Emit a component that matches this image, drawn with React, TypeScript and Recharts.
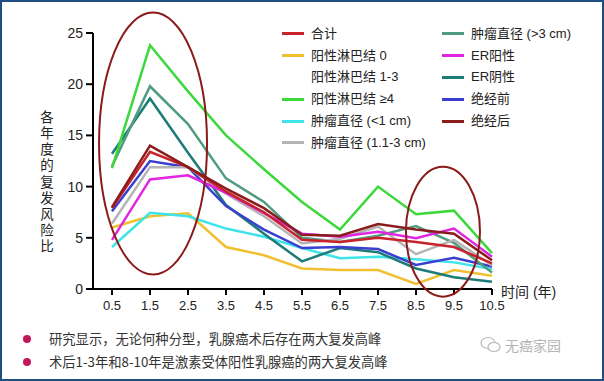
import { LineChart, Line, XAxis, YAxis, ReferenceDot, Legend } from "recharts";

const years = [0.5, 1.5, 2.5, 3.5, 4.5, 5.5, 6.5, 7.5, 8.5, 9.5, 10.5];
const yTicks = [0, 5, 10, 15, 20, 25];

const total = [7.9, 13.4, 11.9, 9.5, 7.5, 4.8, 4.6, 5.0, 4.6, 4.1, 2.5];
const node0 = [6.0, 7.1, 7.4, 4.1, 3.3, 2.0, 1.85, 1.85, 0.5, 1.85, 1.3];
const node4 = [11.8, 23.8, 19.3, 15.0, 11.7, 8.5, 5.8, 10.0, 7.3, 7.65, 3.5];
const sizeLt1 = [4.1, 7.45, 7.1, 5.9, 5.1, 4.0, 3.0, 3.15, 2.9, 2.6, 1.95];
const size1to3 = [6.4, 11.9, 11.9, 9.3, 7.1, 4.45, 4.9, 6.1, 3.4, 4.8, 2.3];
const sizeGt3 = [12.0, 19.8, 16.1, 10.8, 8.5, 5.0, 4.6, 5.2, 6.15, 4.5, 1.6];
const erPos = [4.8, 10.7, 11.1, 9.4, 7.4, 5.4, 5.1, 5.6, 4.95, 5.9, 3.15];
const erNeg = [13.2, 18.6, 13.3, 8.2, 5.4, 2.7, 4.0, 3.6, 2.0, 1.15, 0.7];
const preMeno = [7.6, 12.5, 11.9, 8.1, 5.8, 4.0, 4.1, 3.9, 2.35, 3.05, 2.2];
const postMeno = [8.0, 14.0, 11.9, 9.8, 7.9, 5.3, 5.2, 6.35, 5.8, 5.4, 2.8];

// legend order is column by column; node1to3 has no line in the source
const series = [
  { key: "total", name: "合计", color: "#c8222c", values: total },
  { key: "node0", name: "阳性淋巴结 0", color: "#f0c030", values: node0 },
  { key: "node1to3", name: "阳性淋巴结 1-3", color: "transparent", values: null },
  { key: "node4", name: "阳性淋巴结 ≥4", color: "#3cd83c", values: node4 },
  { key: "sizeLt1", name: "肿瘤直径 (<1 cm)", color: "#3fe3ea", values: sizeLt1 },
  { key: "size1to3", name: "肿瘤直径 (1.1-3 cm)", color: "#b4b4b4", values: size1to3 },
  { key: "sizeGt3", name: "肿瘤直径 (>3 cm)", color: "#4f9c80", values: sizeGt3 },
  { key: "erPos", name: "ER阳性", color: "#e026e0", values: erPos },
  { key: "erNeg", name: "ER阴性", color: "#1d7b78", values: erNeg },
  { key: "preMeno", name: "绝经前", color: "#3a3fd0", values: preMeno },
  { key: "postMeno", name: "绝经后", color: "#8a1c1c", values: postMeno },
];

// draw order: back to front
const drawOrder = ["node0", "sizeLt1", "erNeg", "preMeno", "sizeGt3", "size1to3", "erPos", "total", "postMeno", "node4"];

const data = years.map((x, i) => {
  const row: Record<string, number> = { x };
  series.forEach((s) => {
    if (s.values) row[s.key] = s.values[i];
  });
  return row;
});

const font = "'Liberation Sans', 'Noto Sans CJK SC', sans-serif";
const cjk = "'Noto Sans CJK SC', sans-serif";

function LegendBox() {
  const col1 = series.slice(0, 6);
  const col2 = series.slice(6);
  const renderCol = (items: typeof series, left: number, top: number, gap: number) => (
    <div style={{ position: "absolute", left, top }}>
      {items.map((s) => (
        <div key={s.key} style={{ display: "flex", alignItems: "center", height: gap }}>
          <div style={{ width: 22, height: 3, background: s.color, marginRight: 7 }} />
          <span style={{ fontSize: 13, lineHeight: "16px", color: "#222", fontFamily: font, whiteSpace: "nowrap" }}>
            {s.name}
          </span>
        </div>
      ))}
    </div>
  );
  return (
    <div style={{ position: "relative", width: 604, height: 0 }}>
      {renderCol(col1, 282, -14, 21.8)}
      {renderCol(col2, 442, -14, 21.8)}
    </div>
  );
}

const ellipse = (rx: number, ry: number) => (props: any) => (
  <ellipse cx={props.cx} cy={props.cy} rx={rx} ry={ry} fill="none" stroke="#8b1a1a" strokeWidth={2} />
);

export default function App() {
  return (
    <div
      style={{
        position: "absolute",
        left: 0,
        top: 0,
        width: 600,
        height: 377,
        border: "2px solid #1f4e84",
        background: "#fff",
        fontFamily: font,
        overflow: "hidden",
      }}
    >
      <div style={{ position: "absolute", left: -2, top: -2 }}>
        <LineChart width={604} height={320} data={data} margin={{ top: 33, right: 112, bottom: 1, left: 33 }}>
          <XAxis
            dataKey="x"
            type="number"
            domain={[0, 10.5]}
            ticks={years}
            tickFormatter={(v) => String(v)}
            stroke="#000"
            strokeWidth={2}
            tickSize={6}
            tickMargin={6}
            height={30}
            tick={{ fontSize: 13, fill: "#222", fontFamily: font }}
          />
          <YAxis
            type="number"
            domain={[0, 25]}
            ticks={yTicks}
            stroke="#000"
            strokeWidth={2}
            tickSize={7}
            tickMargin={3}
            width={60}
            tick={{ fontSize: 14, fill: "#222", fontFamily: font }}
          />
          {drawOrder.map((k) => {
            const s = series.find((d) => d.key === k)!;
            return (
              <Line
                key={k}
                type="linear"
                dataKey={k}
                name={s.name}
                stroke={s.color}
                strokeWidth={2.5}
                dot={false}
                isAnimationActive={false}
              />
            );
          })}
          <ReferenceDot x={1.58} y={14.2} r={1} ifOverflow="visible" shape={ellipse(54, 131)} />
          <ReferenceDot x={9.21} y={5.6} r={1} ifOverflow="visible" shape={ellipse(37, 65)} />
          <Legend
            content={() => <LegendBox />}
            wrapperStyle={{ position: "absolute", left: 0, top: 37, width: 604 }}
          />
        </LineChart>
      </div>

      {/* y axis title, stacked upright characters */}
      <div
        style={{
          position: "absolute",
          left: 37,
          top: 108,
          writingMode: "vertical-rl",
          textOrientation: "upright",
          letterSpacing: 2.7,
          fontSize: 13.5,
          lineHeight: "16px",
          color: "#222",
          fontFamily: cjk,
        }}
      >
        各年度的复发风险比
      </div>

      <div style={{ position: "absolute", left: 499, top: 279, fontSize: 14, color: "#222", fontFamily: font }}>
        时间 (年)
      </div>

      {[
        { text: "研究显示，无论何种分型，乳腺癌术后存在两大复发高峰", top: 327 },
        { text: "术后1-3年和8-10年是激素受体阳性乳腺癌的两大复发高峰", top: 350 },
      ].map((b) => (
        <div key={b.top} style={{ position: "absolute", left: 21, top: b.top, display: "flex", alignItems: "center" }}>
          <div style={{ width: 8, height: 8, borderRadius: 4, background: "#c2185b", marginRight: 18 }} />
          <span style={{ fontSize: 13.3, color: "#333", fontFamily: cjk }}>{b.text}</span>
        </div>
      ))}

      <div style={{ position: "absolute", left: 478, top: 333, display: "flex", alignItems: "center", color: "#b5b5b5" }}>
        <svg width={22} height={18} viewBox="0 0 22 18">
          <ellipse cx={8} cy={7} rx={7} ry={5.5} fill="none" stroke="#b5b5b5" strokeWidth={1.2} />
          <ellipse cx={14} cy={11} rx={6} ry={4.5} fill="#fff" stroke="#b5b5b5" strokeWidth={1.2} />
        </svg>
        <span style={{ fontSize: 14, marginLeft: 3, fontFamily: cjk }}>无癌家园</span>
      </div>
    </div>
  );
}
